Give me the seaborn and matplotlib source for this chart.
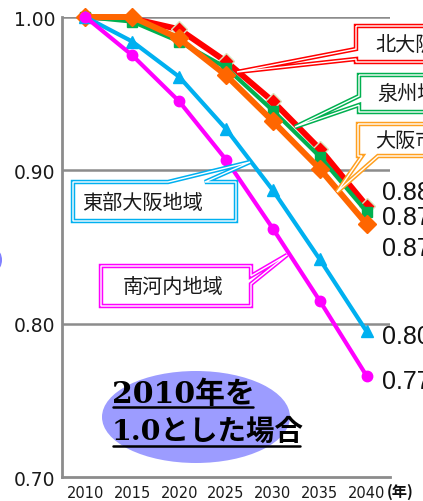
import matplotlib as mpl
import matplotlib.pyplot as plt
from matplotlib.patches import Polygon, Ellipse
import numpy as np
import pandas as pd
import seaborn as sns

# data (2010 = 1.0)
years = [2010, 2015, 2020, 2025, 2030, 2035, 2040]
kita_osaka = [1.000, 0.999, 0.992, 0.971, 0.945, 0.914, 0.877]
senshu = [1.000, 0.997, 0.984, 0.967, 0.939, 0.909, 0.873]
osaka_city = [1.000, 1.000, 0.986, 0.962, 0.932, 0.901, 0.865]
tobu_osaka = [1.000, 0.984, 0.961, 0.927, 0.887, 0.842, 0.795]
minami_kawachi = [1.000, 0.975, 0.945, 0.907, 0.862, 0.815, 0.766]
end_labels = ["0.88", "0.87", "0.87", "0.80", "0.77"]
yticks = [0.70, 0.80, 0.90, 1.00]

W, H = 423, 502

sns.set_style("white")
plt.rcParams['font.family'] = ['DejaVu Sans', 'Noto Sans CJK JP']
JP = ['Noto Sans CJK JP', 'DejaVu Sans']

fig = plt.figure(figsize=(W / 100, H / 100), dpi=100)
ax = fig.add_axes([62 / W, 1 - 478 / H, (390 - 62) / W, (478 - 18) / H])

grey = '#8c8c8c'
series = [
    (kita_osaka, '#ff0000', 'D', 8, 4.3, '#d8e4bc'),
    (senshu, '#00b050', 's', 7, 3.0, '#00b050'),
    (osaka_city, '#ff6600', 'D', 9, 4.3, '#ff6600'),
    (tobu_osaka, '#00b0f0', '^', 9, 3.0, '#00b0f0'),
    (minami_kawachi, '#ff00ff', 'o', 7.5, 3.0, '#ff00ff'),
]
for i, (vals, col, mk, ms, lw, mec) in enumerate(series):
    sns.lineplot(x=years, y=vals, ax=ax, color=col, marker=mk, markersize=ms,
                 linewidth=lw, markeredgecolor=mec, markeredgewidth=1,
                 clip_on=False, zorder=3 + i)

ax.set_xlim(2007.5, 2042.5)
ax.set_ylim(0.70, 1.00)
ax.set_yticks(yticks)
ax.set_yticklabels([f"{v:.2f}" for v in yticks], fontsize=13.5, color='#1a1a1a')
ax.set_xticks(years)
ax.set_xticklabels([str(y) for y in years], fontsize=10.5, color='#1a1a1a')
ax.set_xticks(np.arange(2012.5, 2043, 5), minor=True)
ax.tick_params(axis='y', length=0, pad=5)
ax.tick_params(axis='x', which='major', length=0, pad=6)
ax.tick_params(axis='x', which='minor', length=5, width=1.5, direction='in', color=grey)
for y in [0.80, 0.90, 1.00]:
    ax.axhline(y, color=grey, lw=1.8, zorder=1)
for s in ['top', 'right']:
    ax.spines[s].set_visible(False)
for s in ['left', 'bottom']:
    ax.spines[s].set_color(grey)
    ax.spines[s].set_linewidth(2)
ax.set_xlabel('')
ax.set_ylabel('')

# overlay in pixel coordinates for the annotations
ov = fig.add_axes([0, 0, 1, 1], zorder=10)
ov.set_xlim(0, W)
ov.set_ylim(H, 0)
ov.axis('off')
ov.patch.set_alpha(0)

# value labels at the right (cut by the figure edge, as in the reference)
for txt, yy in zip(end_labels, [193, 218, 249, 337, 382]):
    ov.text(382, yy, txt, fontsize=18, family='Liberation Sans', color='#111111',
            va='center', ha='left')
ov.text(387, 492, '(年)', fontsize=11, fontweight='bold', family=JP,
        va='center', ha='left', color='#111111')


def callout(verts, color, label, tx, ty):
    ov.add_patch(Polygon(verts, closed=True, fc='white', ec=color, lw=3.2,
                         joinstyle='miter', clip_on=False))
    ov.add_patch(Polygon(verts, closed=True, fill=False, ec='white', lw=1.0,
                         joinstyle='miter', clip_on=False))
    ov.text(tx, ty, label, fontsize=14.5, family=JP, color='#1a1a1a',
            va='center', ha='left')


callout([(356, 27), (445, 27), (445, 63), (356, 63), (356, 60), (237, 73), (356, 50)],
        '#ff0000', '北大阪地域', 375, 45)
callout([(359, 76), (445, 76), (445, 113), (359, 113), (359, 106), (295, 128), (359, 97)],
        '#00b050', '泉州地域', 377, 95)
callout([(358, 125), (445, 125), (445, 157), (378, 157), (337, 193), (362, 157), (358, 157)],
        '#ffa020', '大阪市域', 375, 141)
callout([(73, 183), (168, 183), (250, 163), (205, 183), (236, 183), (236, 222), (73, 222)],
        '#00b0f0', '東部大阪地域', 82, 203)
callout([(101, 267), (251, 267), (251, 277), (287, 256), (251, 285), (251, 307), (101, 307)],
        '#ff00ff', '南河内地域', 123, 287)

# lavender ellipse with the note
ov.add_patch(Ellipse((196, 418), 188, 92, fc='#9c9cff', ec='none'))
ov.add_patch(Ellipse((-4, 261), 12, 20, fc='#8080ff', ec='none', clip_on=False))
note_font = ['DejaVu Serif', 'Noto Sans CJK JP']
ov.text(112, 395, '2010年を', fontsize=21.5, fontweight='bold', family=note_font,
        va='center', ha='left', color='black')
ov.text(112, 432, '1.0とした場合', fontsize=20.5, fontweight='bold', family=note_font,
        va='center', ha='left', color='black')
ov.plot([113, 253], [408, 408], color='black', lw=1.8)
ov.plot([113, 300], [447, 447], color='black', lw=1.8)

fig.savefig('out.png', dpi=100)
